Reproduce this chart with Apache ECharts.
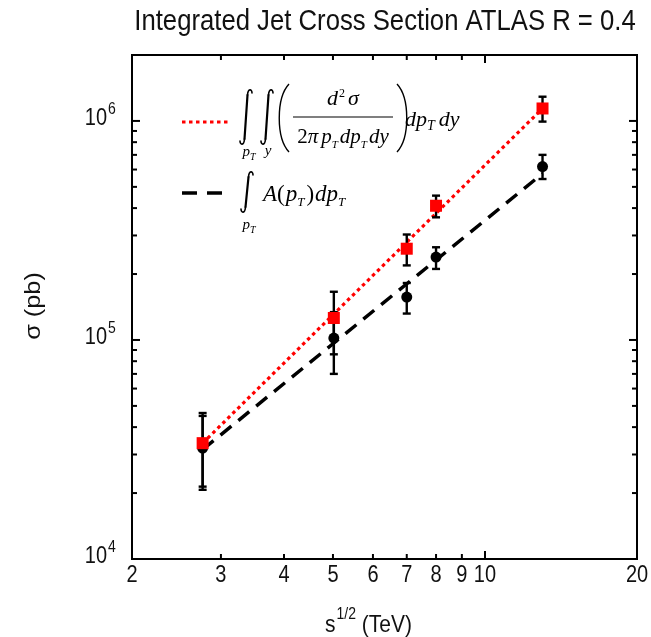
<!DOCTYPE html>
<html><head><meta charset="utf-8">
<script src="https://cdn.jsdelivr.net/npm/echarts@6/dist/echarts.min.js"></script>
<style>html,body{margin:0;padding:0;background:#fff}#c{width:651px;height:637px}</style>
</head><body><div id="c"></div>
<script>
// ---------- data ----------
const energies = [2.76, 5.02, 7, 8, 13];
const sigmaDirect = [3.38e4, 1.26e5, 2.61e5, 4.10e5, 1.14e6];
const sigmaDirectLow = [2.14e4, 8.6e4, 2.19e5, 3.63e5, 9.93e5];
const sigmaDirectHigh = [4.64e4, 1.66e5, 3.03e5, 4.56e5, 1.29e6];
const sigmaModel = [3.21e4, 1.02e5, 1.57e5, 2.39e5, 6.19e5];
const sigmaModelLow = [2.07e4, 7.0e4, 1.32e5, 2.11e5, 5.43e5];
const sigmaModelHigh = [4.5e4, 1.34e5, 1.82e5, 2.65e5, 7.0e5];
const fitEnergies = [2.76, 13];
const fitDirect = [3.38e4, 1.14e6];
const fitModel = [3.16e4, 5.75e5];
const xTickValues = [2, 3, 4, 5, 6, 7, 8, 9, 10, 20];
const xTickLabels = ['2', '3', '4', '5', '6', '7', '8', '9', '10', '20'];
const xMajorTicks = [10];
const yMajorTicks = [1e4, 1e5, 1e6];
const yTickExponents = ['4', '5', '6'];
const yMinorTicks = [2e4, 3e4, 4e4, 5e4, 6e4, 7e4, 8e4, 9e4, 2e5, 3e5, 4e5, 5e5, 6e5, 7e5, 8e5, 9e5];
const X_MIN = 2, X_MAX = 20, Y_MIN = 1e4, Y_MAX = 2e6;

// ---------- helpers ----------
const SANS = '"Liberation Sans", Arial, sans-serif';
const SERIF = '"Liberation Serif", "Times New Roman", serif';
const SY = 1.15;
const mctx = document.createElement('canvas').getContext('2d');
function tw(t, font) { mctx.font = font; return mctx.measureText(t).width; }

// pieces: [text, size, dy, italic(default true), gapBefore]
function mathRow(x, base, pieces, anchor) {
  const els = [];
  let total = 0;
  const fonts = pieces.map(p => ((p[3] === false) ? '' : 'italic ') + p[1] + 'px ' + SERIF);
  pieces.forEach((p, i) => { total += tw(p[0], fonts[i]) + (p[4] || 0); });
  let cx = anchor === 'center' ? x - total / 2 : x;
  pieces.forEach((p, i) => {
    cx += (p[4] || 0);
    els.push({ type: 'text', x: cx, y: base - 0.3 * p[1] + (p[2] || 0), z: 100,
      style: { text: p[0], x: 0, y: 0, font: fonts[i], fill: '#000', align: 'left', verticalAlign: 'middle' } });
    cx += tw(p[0], fonts[i]);
  });
  return els;
}
function integral(cx, cy, h) {
  const t = cy - h / 2, b = cy + h / 2;
  const st = { fill: null, stroke: '#000', lineWidth: 1.6, lineCap: 'round' };
  return { type: 'group', z: 100, children: [
    { type: 'bezierCurve', shape: { x1: cx + 6, y1: t + 4, cpx1: cx + 6, cpy1: t, cpx2: cx + 2, cpy2: t - 1, x2: cx + 1.5, y2: t + 6 }, style: st },
    { type: 'line', shape: { x1: cx + 1.5, y1: t + 6, x2: cx - 1.5, y2: b - 6 }, style: Object.assign({}, st, { lineWidth: 2.2 }) },
    { type: 'bezierCurve', shape: { x1: cx - 1.5, y1: b - 6, cpx1: cx - 2, cpy1: b + 1, cpx2: cx - 6, cpy2: b, x2: cx - 6, y2: b - 4 }, style: st }
  ] };
}
function paren(x, top, bottom, dir) {
  const mid = (top + bottom) / 2;
  return { type: 'bezierCurve', z: 100,
    shape: { x1: x, y1: top, cpx1: x - dir * 13, cpy1: mid - 20, cpx2: x - dir * 13, cpy2: mid + 20, x2: x, y2: bottom },
    style: { fill: null, stroke: '#000', lineWidth: 1.4 } };
}

const graphic = [];
// title
graphic.push({ type: 'text', x: 385, y: 22, scaleY: SY, z: 100,
  style: { text: 'Integrated Jet Cross Section ATLAS R = 0.4', x: 0, y: 0, font: '25.7px ' + SANS, fill: '#111', align: 'center', verticalAlign: 'middle' } });
// y axis title
graphic.push({ type: 'text', x: 34, y: 306, rotation: Math.PI / 2, scaleX: SY, z: 100,
  style: { text: 'σ (pb)', x: 0, y: 0, font: '22px ' + SANS, fill: '#111', align: 'center', verticalAlign: 'middle' } });
// x axis title: s^{1/2} (TeV)
(function () {
  const f1 = '21px ' + SANS, f2 = '14px ' + SANS;
  const w1 = tw('s', f1), w2 = tw('1/2', f2), w3 = tw(' (TeV)', f1);
  let x = 368 - (w1 + w2 + w3) / 2;
  const y = 625;
  graphic.push({ type: 'text', x: x, y: y, scaleY: SY, z: 100, style: { text: 's', x: 0, y: 0, font: f1, fill: '#111', align: 'left', verticalAlign: 'middle' } });
  x += w1 + 1;
  graphic.push({ type: 'text', x: x, y: y - 10, scaleY: SY, z: 100, style: { text: '1/2', x: 0, y: 0, font: f2, fill: '#111', align: 'left', verticalAlign: 'middle' } });
  x += w2;
  graphic.push({ type: 'text', x: x, y: y, scaleY: SY, z: 100, style: { text: ' (TeV)', x: 0, y: 0, font: f1, fill: '#111', align: 'left', verticalAlign: 'middle' } });
})();

// legend samples
graphic.push({ type: 'line', z: 100, shape: { x1: 182, y1: 122, x2: 229, y2: 122 },
  style: { stroke: '#ff0000', lineWidth: 3.2, lineDash: [3.5, 3.5] } });
graphic.push({ type: 'line', z: 100, shape: { x1: 182, y1: 193, x2: 222, y2: 193 },
  style: { stroke: '#000', lineWidth: 3.5, lineDash: [15, 10] } });
// formula 1
graphic.push(integral(246, 117, 56));
graphic.push(integral(267, 117, 56));
graphic.push(...mathRow(249, 157, [['p', 15], ['T', 10, 3]], 'center'));
graphic.push(...mathRow(268, 156, [['y', 15]], 'center'));
graphic.push(paren(289, 84, 152, 1));
graphic.push(paren(397, 84, 152, -1));
graphic.push(...mathRow(343, 106, [['d', 22], ['2', 12, -9, false, 1], ['σ', 22, 0, true, 3]], 'center'));
graphic.push({ type: 'line', z: 100, shape: { x1: 293, y1: 117, x2: 393, y2: 117 }, style: { stroke: '#000', lineWidth: 1.2 } });
graphic.push(...mathRow(343, 144, [['2', 21, 0, false], ['π', 21], ['p', 21, 0, true, 3], ['T', 11, 4], ['d', 21, 0, true, 2], ['p', 21], ['T', 11, 4], ['d', 21, 0, true, 2], ['y', 21]], 'center'));
graphic.push(...mathRow(405, 127, [['d', 22], ['p', 22], ['T', 14, 4], ['d', 22, 0, true, 4], ['y', 22]], 'left'));
// formula 2
graphic.push(integral(247, 192, 42));
graphic.push(...mathRow(249, 230, [['p', 15], ['T', 10, 3]], 'center'));
graphic.push(...mathRow(263, 202, [['A', 23], ['(', 23, 0, false], ['p', 23, 0, true, 1], ['T', 13, 4], [')', 23, 0, false, 2], ['d', 23, 0, true, 1], ['p', 23], ['T', 13, 4]], 'left'));

// ---------- render functions ----------
function renderErr(params, api) {
  const x = api.value(0);
  const lo = api.coord([x, api.value(1)]);
  const hi = api.coord([x, api.value(2)]);
  const c = 4;
  const st = { stroke: '#000', lineWidth: 2.4 };
  return { type: 'group', children: [
    { type: 'line', shape: { x1: lo[0], y1: lo[1], x2: hi[0], y2: hi[1] }, style: st },
    { type: 'line', shape: { x1: lo[0] - c, y1: lo[1], x2: lo[0] + c, y2: lo[1] }, style: st },
    { type: 'line', shape: { x1: hi[0] - c, y1: hi[1], x2: hi[0] + c, y2: hi[1] }, style: st }
  ] };
}
function renderXTick(params, api) {
  const v = api.value(0);
  const major = api.value(2) === 1;
  const b = api.coord([v, Y_MIN]);
  const t = api.coord([v, Y_MAX]);
  const len = major ? 8 : 5;
  const st = { stroke: '#000', lineWidth: 2 };
  const children = [];
  if (v > X_MIN && v < X_MAX) {
    children.push({ type: 'line', shape: { x1: b[0], y1: b[1], x2: b[0], y2: b[1] - len }, style: st });
    children.push({ type: 'line', shape: { x1: t[0], y1: t[1], x2: t[0], y2: t[1] + len }, style: st });
  }
  children.push({ type: 'text', x: b[0], y: b[1] + 17, scaleY: SY,
    style: { text: xTickLabels[params.dataIndex], x: 0, y: 0, font: '20px ' + SANS, fill: '#111', align: 'center', verticalAlign: 'middle' } });
  return { type: 'group', children: children };
}
function renderYTick(params, api) {
  const v = api.value(1);
  const major = api.value(2) === 1;
  const l = api.coord([X_MIN, v]);
  const r = api.coord([X_MAX, v]);
  const len = major ? 8 : 5;
  const st = { stroke: '#000', lineWidth: 2 };
  const children = [];
  if (v > Y_MIN && v < Y_MAX) {
    children.push({ type: 'line', shape: { x1: l[0], y1: l[1], x2: l[0] + len, y2: l[1] }, style: st });
    children.push({ type: 'line', shape: { x1: r[0], y1: r[1], x2: r[0] - len, y2: r[1] }, style: st });
  }
  if (major) {
    const exp = yTickExponents[api.value(3)];
    children.push({ type: 'text', x: 107, y: l[1] - 2, scaleY: SY,
      style: { text: '10', x: 0, y: 0, font: '20px ' + SANS, fill: '#111', align: 'right', verticalAlign: 'middle' } });
    children.push({ type: 'text', x: 108, y: l[1] - 11, scaleY: SY,
      style: { text: exp, x: 0, y: 0, font: '14px ' + SANS, fill: '#111', align: 'left', verticalAlign: 'middle' } });
  }
  return { type: 'group', children: children };
}

const xTickData = xTickValues.map(v => [v, Y_MIN, xMajorTicks.includes(v) ? 1 : 0]);
const yTickData = yMajorTicks.map((v, i) => [X_MIN, v, 1, i]).concat(yMinorTicks.map(v => [X_MIN, v, 0, 0]));

const chart = echarts.init(document.getElementById('c'), null, { renderer: 'canvas' });
chart.setOption({
  animation: false,
  backgroundColor: '#fff',
  grid: { left: 132, right: 14, top: 55, bottom: 78, show: true, borderColor: '#000', borderWidth: 2, backgroundColor: 'transparent' },
  xAxis: { type: 'log', logBase: 10, min: X_MIN, max: X_MAX,
    axisLine: { show: false }, axisTick: { show: false }, axisLabel: { show: false }, splitLine: { show: false } },
  yAxis: { type: 'log', logBase: 10, min: Y_MIN, max: Y_MAX,
    axisLine: { show: false }, axisTick: { show: false }, axisLabel: { show: false }, splitLine: { show: false } },
  graphic: graphic,
  series: [
    { type: 'custom', name: 'xticks', renderItem: renderXTick, data: xTickData, clip: false, silent: true, z: 10 },
    { type: 'custom', name: 'yticks', renderItem: renderYTick, data: yTickData, clip: false, silent: true, z: 10 },
    { type: 'line', name: 'fitDirect', data: fitEnergies.map((x, i) => [x, fitDirect[i]]), showSymbol: false, symbol: 'none',
      lineStyle: { color: '#ff0000', width: 3.2, type: [3.5, 3.5] }, z: 2 },
    { type: 'line', name: 'fitModel', data: fitEnergies.map((x, i) => [x, fitModel[i]]), showSymbol: false, symbol: 'none',
      lineStyle: { color: '#000', width: 3.5, type: [14, 9] }, z: 2 },
    { type: 'custom', name: 'errModel', renderItem: renderErr, data: energies.map((x, i) => [x, sigmaModelLow[i], sigmaModelHigh[i]]), z: 3 },
    { type: 'custom', name: 'errDirect', renderItem: renderErr, data: energies.map((x, i) => [x, sigmaDirectLow[i], sigmaDirectHigh[i]]), z: 3 },
    { type: 'scatter', name: 'model', data: energies.map((x, i) => [x, sigmaModel[i]]), symbol: 'circle', symbolSize: 11,
      itemStyle: { color: '#000', opacity: 1 }, z: 4 },
    { type: 'scatter', name: 'direct', data: energies.map((x, i) => [x, sigmaDirect[i]]), symbol: 'rect', symbolSize: 12,
      itemStyle: { color: '#ff0000', opacity: 1 }, z: 5 }
  ]
});
</script>
</body></html>
